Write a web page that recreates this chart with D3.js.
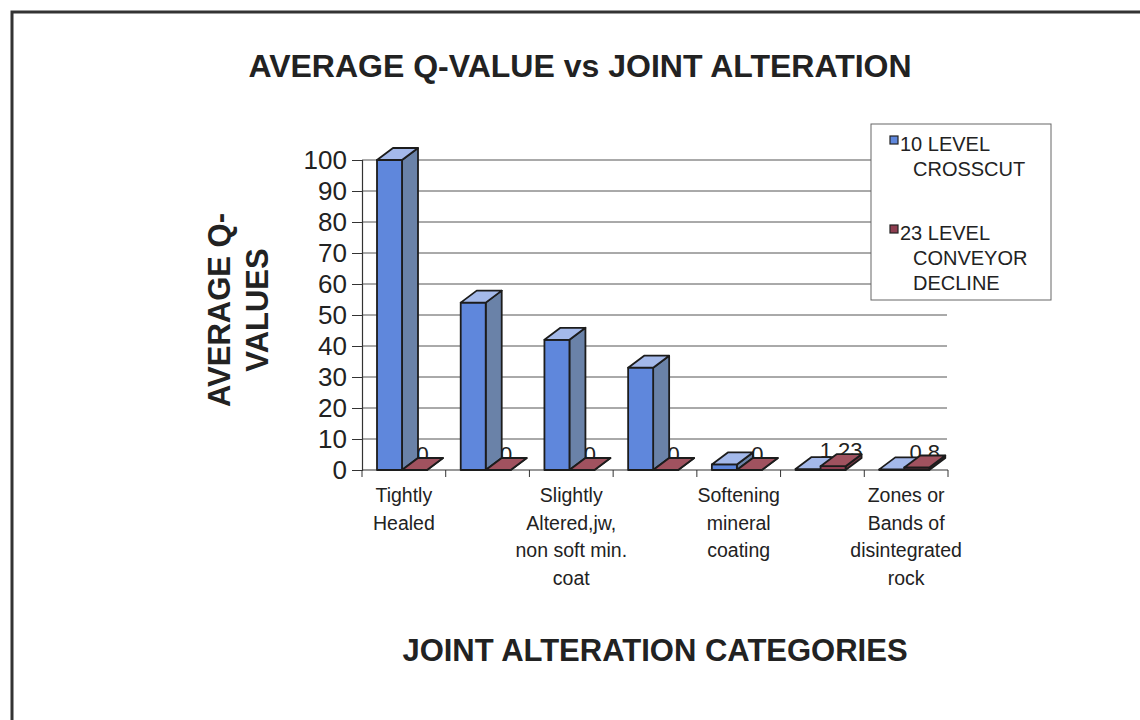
<!DOCTYPE html>
<html>
<head>
<meta charset="utf-8">
<script src="https://cdn.jsdelivr.net/npm/d3@7"></script>
<style>
  html, body { margin: 0; padding: 0; background: #fff; }
  svg { display: block; }
  text { font-family: "Liberation Sans", Arial, sans-serif; fill: #222; }
</style>
</head>
<body>
<svg id="chart" width="1140" height="720"></svg>
<script>
// Joint alteration categories (label lines), series and values
const categories = [
  ["Tightly", "Healed"],
  ["Unaltered", "joint walls"],
  ["Slightly", "Altered,jw,", "non soft min.", "coat"],
  ["Silty or sandy", "clay coating"],
  ["Softening", "mineral", "coating"],
  ["Sandy", "particles"],
  ["Zones or", "Bands of", "disintegrated", "rock"]
];
const seriesNames = [["10 LEVEL", "CROSSCUT"], ["23 LEVEL", "CONVEYOR", "DECLINE"]];
const crosscut10 = [100, 54, 42, 33, 1.8, 0.3, 0.2];
const conveyor23 = [0, 0, 0, 0, 0, 1.23, 0.8];
const conveyorLabels = ["0", "0", "0", "0", "0", "1.23", "0.8"];
const yTicks = [0, 10, 20, 30, 40, 50, 60, 70, 80, 90, 100];

const svg = d3.select("#chart");

// frame around the chart area
svg.append("path")
  .attr("d", "M12,720 L12,12 L1140,12")
  .attr("fill", "none").attr("stroke", "#333").attr("stroke-width", 3);

const plot = { left: 362, right: 948, top: 160, bottom: 470 };
const depth = { dx: 16, dy: 12 };

const catIdx = d3.range(categories.length);
const x0 = d3.scaleBand().domain(catIdx).range([plot.left, plot.right]);
const x1 = d3.scaleBand().domain([0, 1]).range([15, 15 + 50]);
const y = d3.scaleLinear().domain([0, 100]).range([plot.bottom, plot.top]);

// gridlines
svg.append("g").selectAll("line")
  .data(yTicks.filter(t => t > 0))
  .join("line")
  .attr("x1", plot.left).attr("x2", plot.right - 1)
  .attr("y1", d => y(d)).attr("y2", d => y(d))
  .attr("stroke", "#555").attr("stroke-width", 1);

// value axis
const yAxis = d3.axisLeft(y).tickValues(yTicks).tickSize(10).tickPadding(5).tickFormat(d3.format("d"));
const yg = svg.append("g").attr("transform", `translate(${plot.left},0)`).call(yAxis);
yg.select(".domain").attr("stroke", "#333").attr("stroke-width", 1.2);
yg.selectAll(".tick line").attr("stroke", "#333");
yg.selectAll(".tick text").attr("font-size", 26).attr("fill", "#222")
  .style("font-family", "'Liberation Sans', Arial, sans-serif");

// category axis
svg.append("line")
  .attr("x1", plot.left).attr("x2", plot.right)
  .attr("y1", plot.bottom).attr("y2", plot.bottom)
  .attr("stroke", "#333").attr("stroke-width", 1.2);
const boundaries = catIdx.map(i => x0(i)).concat([plot.right]);
svg.append("g").selectAll("line")
  .data(boundaries)
  .join("line")
  .attr("x1", d => d).attr("x2", d => d)
  .attr("y1", plot.bottom).attr("y2", plot.bottom + 7)
  .attr("stroke", "#333");

// category labels (every other category shown)
const catLab = svg.append("g");
catIdx.filter(i => i % 2 === 0).forEach(i => {
  const cx = x0(i) + x0.bandwidth() / 2;
  const t = catLab.append("text")
    .attr("text-anchor", "middle")
    .attr("font-size", 19.5);
  categories[i].forEach((line, k) => {
    t.append("tspan").attr("x", cx).attr("y", 502 + k * 27.5).text(line);
  });
});

// data labels for the conveyor series (drawn beneath the bars)
const labG = svg.append("g");
catIdx.forEach(i => {
  const bx = x0(i) + x1(1);
  labG.append("text")
    .attr("x", bx + x1.bandwidth() / 2 + depth.dx / 2)
    .attr("y", y(conveyor23[i]) - 8)
    .attr("text-anchor", "middle")
    .attr("font-size", 22)
    .text(conveyorLabels[i]);
});

// 3D columns
const palettes = [
  { front: "#5f87dc", side: "#6a82a8", top: "#a4b9ea" },
  { front: "#8e3e50", side: "#74343f", top: "#a0525f" }
];
const barsG = svg.append("g");
function drawBar(xl, w, v, pal) {
  const yt = y(v), yb = y(0);
  const dx = depth.dx, dy = depth.dy;
  const g = barsG.append("g")
    .attr("stroke", "#1c1c1c").attr("stroke-width", 1.8).attr("stroke-linejoin", "round");
  g.append("polygon")
    .attr("points", [[xl + w, yb], [xl + w, yt], [xl + w + dx, yt - dy], [xl + w + dx, yb - dy]].join(" "))
    .attr("fill", pal.side);
  g.append("rect")
    .attr("x", xl).attr("y", yt).attr("width", w).attr("height", Math.max(0, yb - yt))
    .attr("fill", pal.front);
  g.append("polygon")
    .attr("points", [[xl, yt], [xl + w, yt], [xl + w + dx, yt - dy], [xl + dx, yt - dy]].join(" "))
    .attr("fill", pal.top);
}
catIdx.forEach(i => {
  [crosscut10, conveyor23].forEach((series, s) => {
    drawBar(x0(i) + x1(s), x1.bandwidth(), series[i], palettes[s]);
  });
});

// title
svg.append("text")
  .attr("x", 580).attr("y", 77)
  .attr("text-anchor", "middle")
  .attr("font-size", 32).attr("font-weight", "bold")
  .attr("fill", "#333")
  .text("AVERAGE Q-VALUE vs JOINT ALTERATION");

// value axis title (two lines)
[["AVERAGE Q-", 230], ["VALUES", 268]].forEach(([txt, bx]) => {
  svg.append("text")
    .attr("transform", `translate(${bx},310) rotate(-90)`)
    .attr("text-anchor", "middle")
    .attr("font-size", 31).attr("font-weight", "bold")
    .attr("fill", "#333")
    .text(txt);
});

// category axis title
svg.append("text")
  .attr("x", 655).attr("y", 661)
  .attr("text-anchor", "middle")
  .attr("font-size", 31).attr("font-weight", "bold")
  .attr("fill", "#333")
  .text("JOINT ALTERATION CATEGORIES");

// legend
const leg = svg.append("g");
leg.append("rect")
  .attr("x", 871).attr("y", 124).attr("width", 180).attr("height", 176)
  .attr("fill", "#fff").attr("stroke", "#666").attr("stroke-width", 1);
const legendRows = [
  { top: 151, pal: palettes[0], lines: seriesNames[0] },
  { top: 240, pal: palettes[1], lines: seriesNames[1] }
];
legendRows.forEach(r => {
  leg.append("rect")
    .attr("x", 890).attr("y", r.top - 15).attr("width", 8).attr("height", 8)
    .attr("fill", r.pal.front).attr("stroke", "#222").attr("stroke-width", 1.2);
  r.lines.forEach((line, k) => {
    leg.append("text")
      .attr("x", k === 0 ? 900 : 913)
      .attr("y", r.top + k * 25)
      .attr("font-size", 20)
      .text(line);
  });
});
</script>
</body>
</html>
